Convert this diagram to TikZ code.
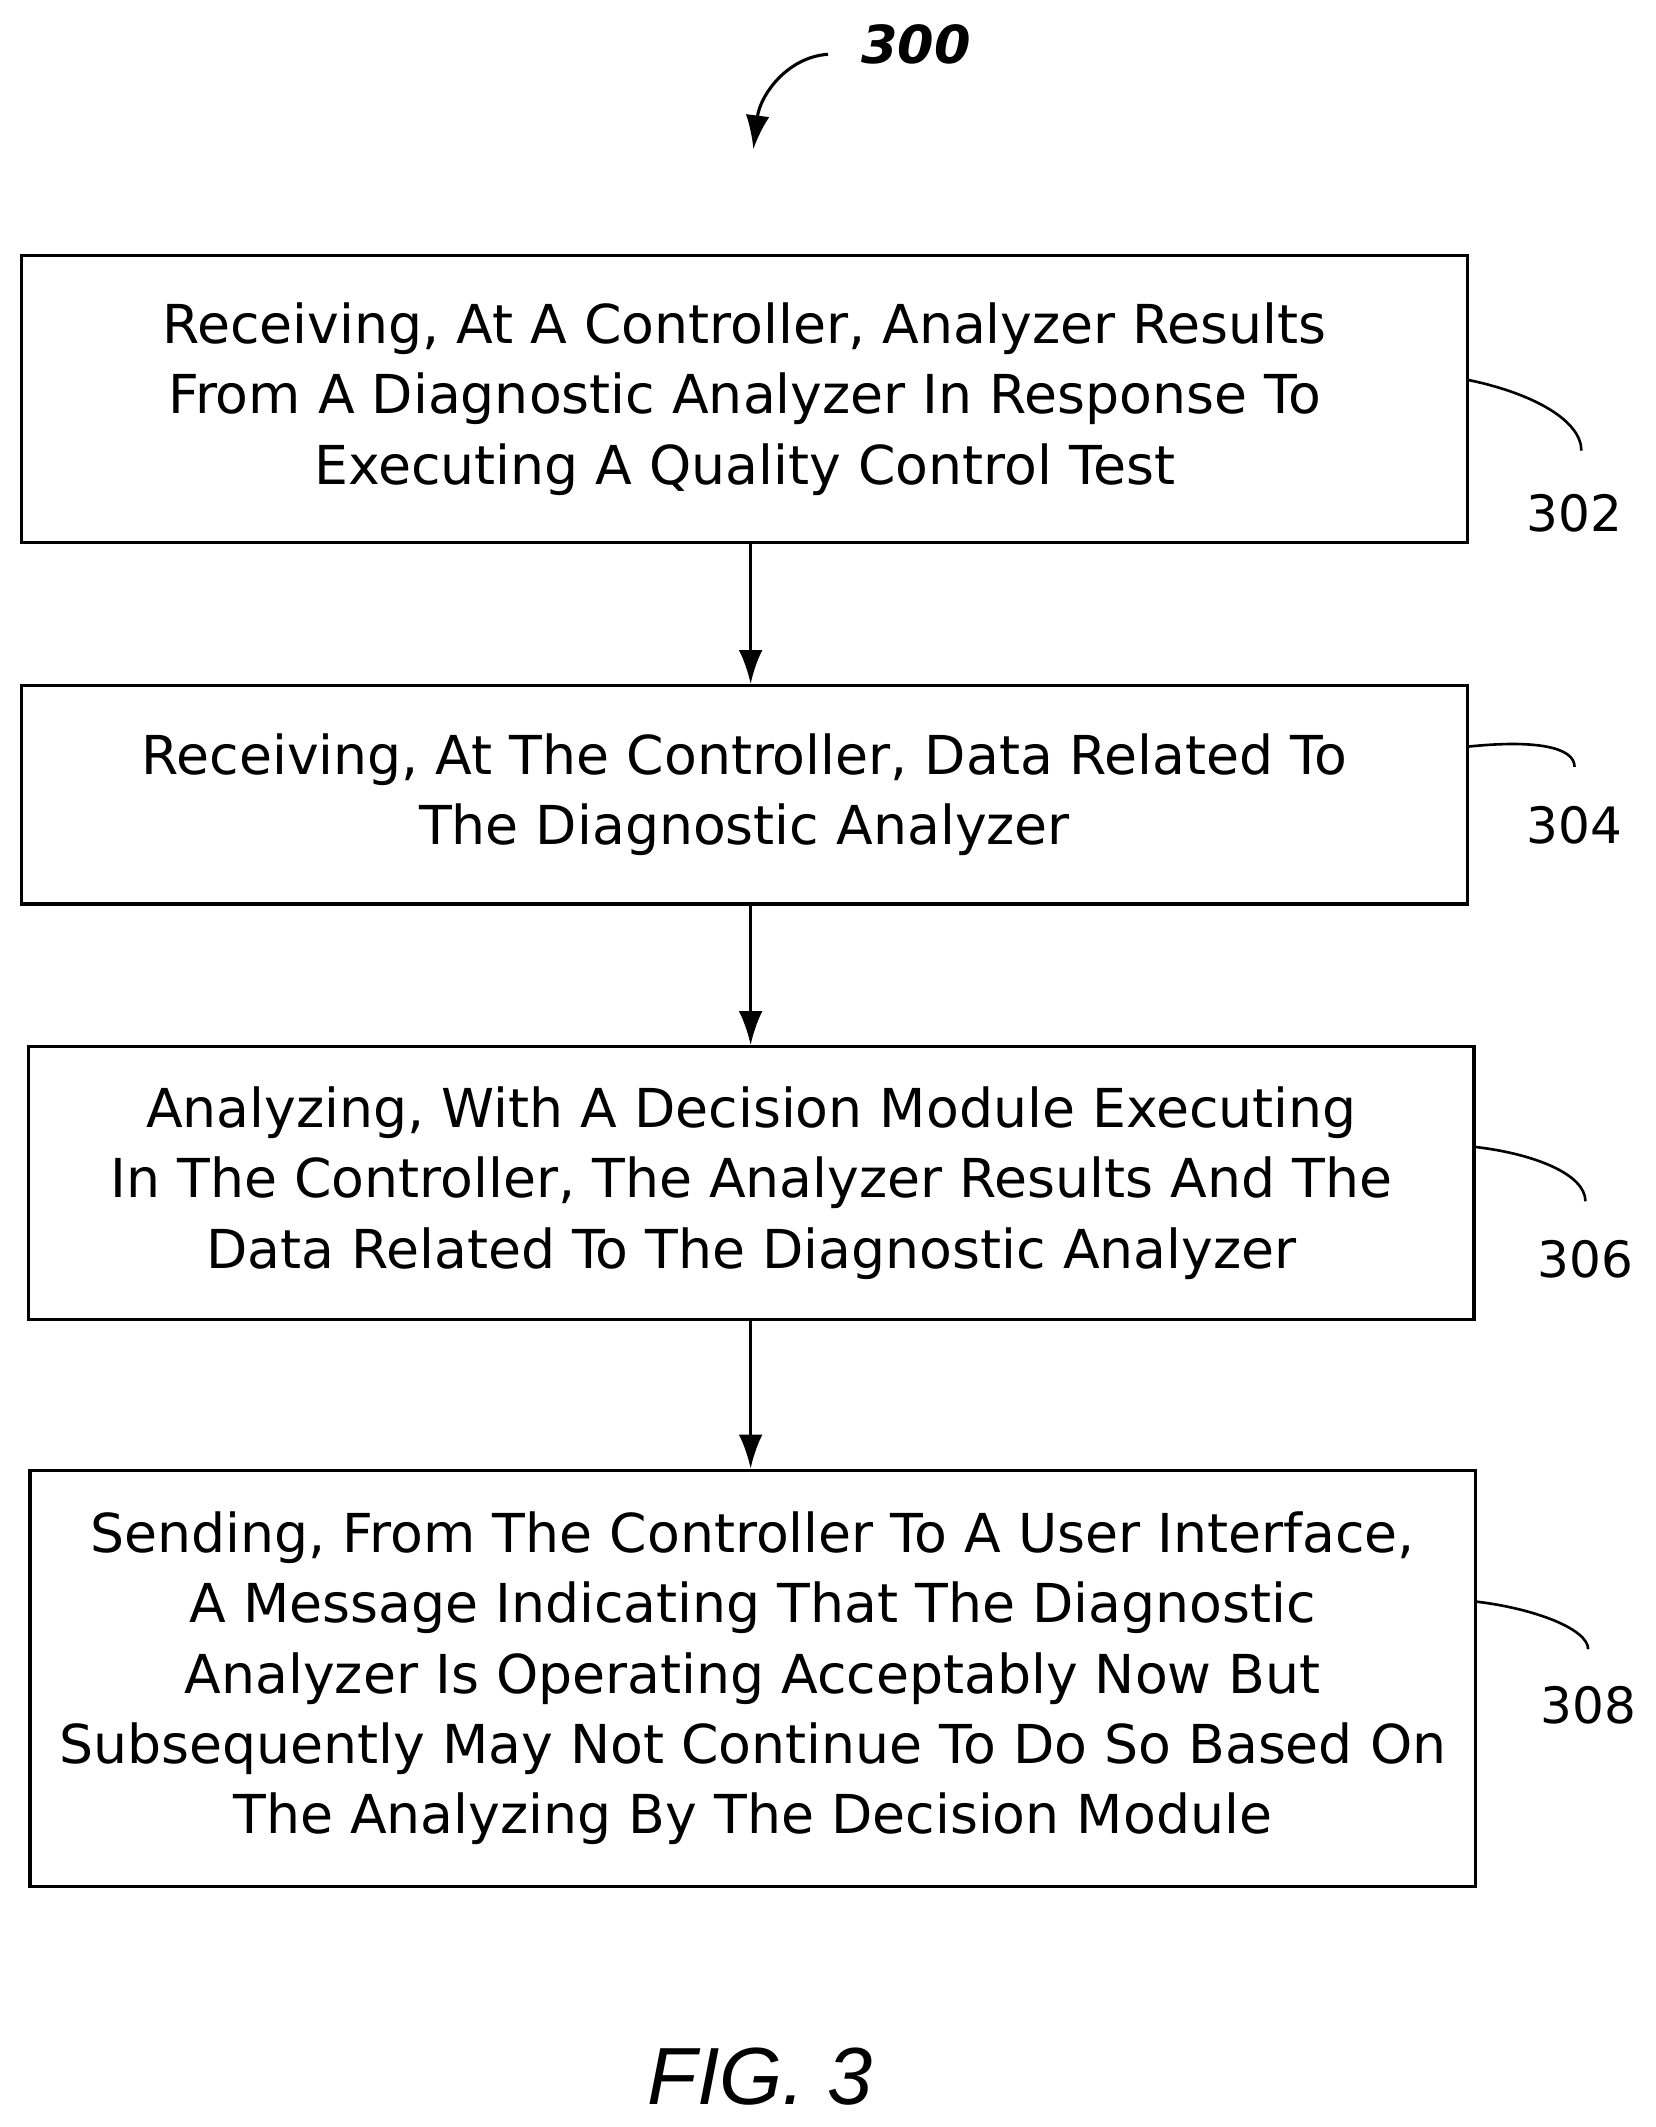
\documentclass[tikz,border=0pt]{standalone}
\usepackage{fontspec}
\setmainfont{DejaVu Sans}
\newfontfamily\figfont{Liberation Sans}
\usetikzlibrary{arrows.meta,positioning}
\tikzset{%
	stepbox/.style = {draw, line width=1.3pt, rectangle, minimum width=21.3cm, text centered, align=center, font=\fontsize{22.5}{29.5}\selectfont},
	arrow/.style   = {line width=1.3pt,-{Latex[length=5mm,width=3.5mm]}},
	leader/.style  = {line width=1.1pt},
	refnum/.style  = {font=\fontsize{21}{25}\selectfont},
}
\begin{document}
\begin{tikzpicture}[x=0.02cm,y=-0.02cm]
	\useasboundingbox (0,0) rectangle (1220,1567);
	\node[stepbox,minimum height=4.24cm] (s302) at (548.5,294) {Receiving, At A Controller, Analyzer Results\\From A Diagnostic Analyzer In Response To\\Executing A Quality Control Test};
	\node[stepbox,minimum height=3.22cm] (s304) at (548.5,585.5) {Receiving, At The Controller, Data Related To\\The Diagnostic Analyzer};
	\node[stepbox,minimum height=4.02cm] (s306) at (553.5,871.5) {Analyzing, With A Decision Module Executing\\In The Controller, The Analyzer Results And The\\Data Related To The Diagnostic Analyzer};
	\node[stepbox,minimum height=6.14cm] (s308) at (554.5,1236.5) {Sending, From The Controller To A User Interface,\\A Message Indicating That The Diagnostic\\Analyzer Is Operating Acceptably Now But\\Subsequently May Not Continue To Do So Based On\\The Analyzing By The Decision Module};

	\node[refnum] (n302) at (1160,378) {302};
	\node[refnum] (n304) at (1160,608) {304};
	\node[refnum] (n306) at (1168,928) {306};
	\node[refnum] (n308) at (1170,1256) {308};
	\node[font=\fontsize{22}{26}\selectfont\bfseries\itshape] (n300) at (675,33) {300};
	\node[font=\figfont\fontsize{34}{40}\selectfont\itshape] (fig) at (560,1530) {FIG. 3};
	\coordinate (mid) at (553,0);

	\draw[arrow] (s302.south -| mid) -- (s304.north -| mid);
	\draw[arrow] (s304.south -| mid) -- (s306.north -| mid);
	\draw[arrow] (s306.south -| mid) -- (s308.north -| mid);

	\draw[leader] (s302.east |- 0,280) .. controls (1130,290) and (1165,310) .. (1165,332);
	\draw[leader] (s304.east |- 0,550) .. controls (1130,545) and (1160,550) .. (1160,565);
	\draw[leader] (s306.east |- 0,845) .. controls (1130,850) and (1168,865) .. (1168,885);
	\draw[leader] (s308.east |- 0,1180) .. controls (1130,1185) and (1170,1200) .. (1170,1215);
	\draw[arrow] (610,40) .. controls (580,42) and (560,70) .. (555,110);
\end{tikzpicture}
\end{document}
